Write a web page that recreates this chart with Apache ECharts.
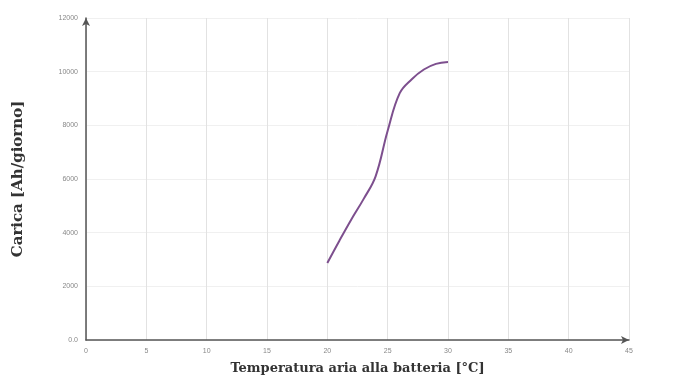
<!DOCTYPE html>
<html><head><meta charset="utf-8">
<script src="https://cdn.jsdelivr.net/npm/echarts@6/dist/echarts.min.js"></script>
<style>html,body{margin:0;padding:0;background:#fff}#c{width:677px;height:380px}</style>
</head><body><div id="c"></div>
<script>
var temps = [20, 21, 22, 23, 24, 25, 26, 27, 28, 29, 30];
var carica = [2870, 3700, 4500, 5250, 6100, 7800, 9200, 9720, 10080, 10290, 10360];
var xTitle = 'Temperatura aria alla batteria [°C]';
var yTitle = 'Carica [Ah/giorno]';

var chart = echarts.init(document.getElementById('c'));
chart.setOption({
  animation: false,
  backgroundColor: '#fff',
  grid: {left: 86, right: 48, top: 18, bottom: 40, containLabel: false},
  xAxis: {
    type: 'value', min: 0, max: 45, interval: 5,
    name: xTitle, nameLocation: 'middle', nameGap: 22,
    nameTextStyle: {fontFamily: 'DejaVu Serif', fontWeight: 'bold', fontSize: 13, color: '#333'},
    axisLine: {show: true, lineStyle: {color: '#555', width: 1.5}, symbol: ['none', 'arrow'], symbolSize: [6, 8]},
    axisTick: {show: false},
    axisLabel: {fontSize: 7, color: '#888', margin: 8},
    splitLine: {show: true, lineStyle: {color: '#e2e2e2', width: 1}}
  },
  yAxis: {
    type: 'value', min: 0, max: 12000, interval: 2000,
    name: yTitle, nameLocation: 'middle', nameGap: 60, nameRotate: 90,
    nameTextStyle: {fontFamily: 'DejaVu Serif', fontWeight: 'bold', fontSize: 15, color: '#333'},
    axisLine: {show: true, lineStyle: {color: '#555', width: 1.5}, symbol: ['none', 'arrow'], symbolSize: [6, 8]},
    axisTick: {show: false},
    axisLabel: {fontSize: 7, color: '#888', margin: 8, formatter: function(v){ return v === 0 ? '0.0' : String(v); }},
    splitLine: {show: true, lineStyle: {color: '#f0f0f0', width: 1}}
  },
  series: [{
    type: 'line',
    data: temps.map(function(t, i){ return [t, carica[i]]; }),
    smooth: 0.4,
    showSymbol: false,
    lineStyle: {color: '#7d4f8e', width: 2},
    itemStyle: {color: '#7d4f8e'}
  }]
});
</script>
</body></html>
